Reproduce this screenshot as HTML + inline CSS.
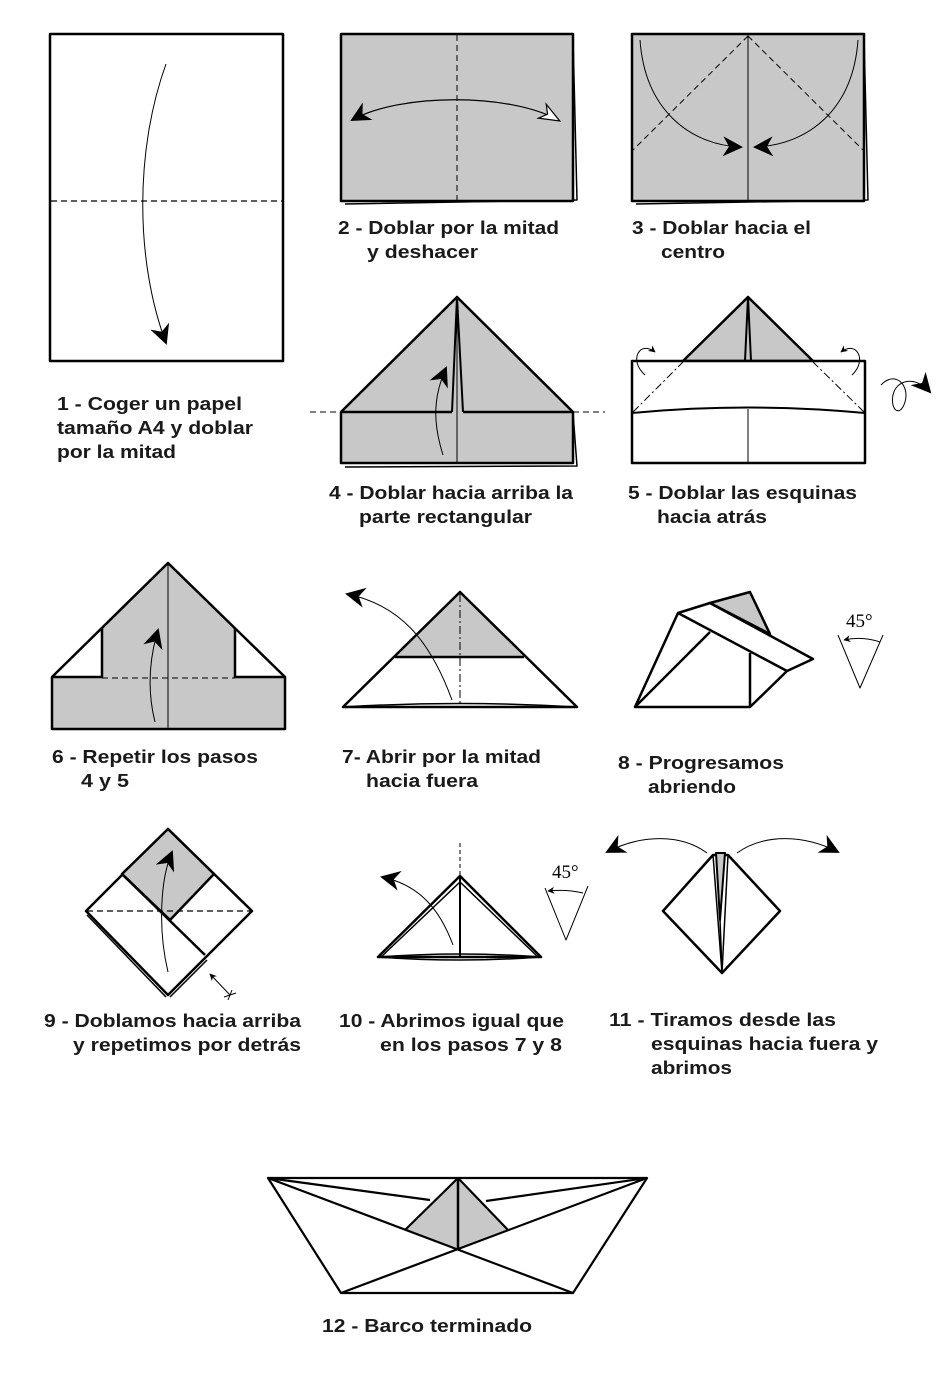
<!DOCTYPE html>
<html><head><meta charset="utf-8"><style>
html,body{margin:0;padding:0;background:#fff;}
svg{display:block;}
text{font-family:"Liberation Sans",Arial,sans-serif;font-weight:bold;font-size:18px;fill:#1a1a1a;}
.s{font-family:"Liberation Serif",serif;font-weight:normal;font-size:19px;fill:#000;}
</style></head><body>
<svg width="941" height="1387" viewBox="0 0 941 1387" xmlns="http://www.w3.org/2000/svg">
<defs>
<marker id="ab" viewBox="0 0 10 10" refX="9" refY="5" markerWidth="7" markerHeight="7" orient="auto-start-reverse" markerUnits="userSpaceOnUse"><path d="M0,0 L10,5 L0,10 L3,5z" fill="#000"/></marker>
<marker id="aB" viewBox="0 0 10 10" refX="9" refY="5" markerWidth="20" markerHeight="20" orient="auto-start-reverse" markerUnits="userSpaceOnUse"><path d="M0,0 L10,5 L0,10 L3,5z" fill="#000"/></marker>
<marker id="aW" viewBox="0 0 10 10" refX="9" refY="5" markerWidth="36" markerHeight="20" orient="auto" markerUnits="userSpaceOnUse"><path d="M0,1 L10,5 L0,9 L3,5z" fill="#fff" stroke="#000" stroke-width="0.6"/></marker>
</defs>
<g fill="none" stroke="#000" stroke-linejoin="round">
<!-- Step 1 -->
<rect x="50" y="34" width="233" height="327" fill="#fff" stroke-width="2.5"/>
<line x1="51" y1="201" x2="282" y2="201" stroke-width="1.2" stroke-dasharray="6,4"/>
<path d="M166,64 C135,150 135,260 166,343" stroke-width="1" marker-end="url(#aB)"/>
<!-- Step 2 -->
<polyline points="573,36 577,200 345,204" stroke-width="1.5"/>
<rect x="341" y="34" width="232" height="167" fill="#c8c8c8" stroke-width="2.5"/>
<line x1="457" y1="35" x2="457" y2="200" stroke-width="1" stroke-dasharray="6,4"/>
<path d="M352,120 C400,93 510,93 558,120" stroke-width="1.2" marker-start="url(#aB)" marker-end="url(#aW)"/>
<!-- Step 3 -->
<polyline points="864,36 868,200 636,204" stroke-width="1.5"/>
<rect x="632" y="34" width="232" height="167" fill="#c8c8c8" stroke-width="2.5"/>
<line x1="748" y1="35" x2="748" y2="200" stroke-width="1"/>
<line x1="748" y1="36" x2="633" y2="150" stroke-width="1" stroke-dasharray="6,4"/>
<line x1="748" y1="36" x2="863" y2="150" stroke-width="1" stroke-dasharray="6,4"/>
<path d="M640,40 C645,110 690,145 741,147" stroke-width="1" marker-end="url(#aB)"/>
<path d="M858,40 C853,110 808,145 755,147" stroke-width="1" marker-end="url(#aB)"/>
<!-- Step 4 -->
<polyline points="573,413 577,466 345,467" stroke-width="1.5"/>
<polygon points="457,297 341,412 341,463 573,463 573,412" fill="#c8c8c8" stroke-width="2.5"/>
<line x1="341" y1="412" x2="452" y2="412" stroke-width="2.5"/>
<line x1="463" y1="412" x2="573" y2="412" stroke-width="2.5"/>
<polyline points="452,412 457,297 463,412" stroke-width="2"/>
<line x1="310" y1="412" x2="341" y2="412" stroke-width="1" stroke-dasharray="6,4"/>
<line x1="573" y1="412" x2="605" y2="412" stroke-width="1" stroke-dasharray="6,4"/>
<line x1="457" y1="300" x2="457" y2="463" stroke-width="1"/>
<path d="M443,455 C432,420 434,395 446,368" stroke-width="1" marker-end="url(#aB)"/>
<!-- Step 5 -->
<polygon points="748,297 683,361 813,361" fill="#c8c8c8" stroke-width="2.5"/>
<polyline points="745,361 748,297 751,361" stroke-width="2"/>
<rect x="632" y="361" width="233" height="102" fill="#fff" stroke-width="2.5"/>
<path d="M632,413 Q748,402 865,413" stroke-width="2"/>
<line x1="748" y1="409" x2="748" y2="463" stroke-width="1"/>
<line x1="633" y1="412" x2="683" y2="362" stroke-width="1" stroke-dasharray="8,3,2,3"/>
<line x1="864" y1="412" x2="813" y2="362" stroke-width="1" stroke-dasharray="8,3,2,3"/>
<path d="M645,375 C628,360 640,340 655,352" stroke-width="1" marker-end="url(#ab)"/>
<path d="M852,375 C868,360 856,340 841,352" stroke-width="1" marker-end="url(#ab)"/>
<path d="M881,385 C895,370 910,385 905,402 C900,418 890,410 893,395 C896,380 915,375 930,392" stroke-width="1" marker-end="url(#aB)"/>
<!-- Step 6 -->
<polygon points="168,563 235,628 235,677 285,677 285,729 52,729 52,677 102,677 102,628" fill="#c8c8c8" stroke="none"/>
<polygon points="52,677 102,628 102,677" fill="#fff" stroke="none"/>
<polygon points="235,628 285,677 235,677" fill="#fff" stroke="none"/>
<polyline points="52,677 168,563 285,677" stroke-width="2.5"/>
<polyline points="102,628 102,677 52,677 52,729 285,729 285,677 235,677 235,628" stroke-width="2.5"/>
<line x1="102" y1="678" x2="235" y2="678" stroke-width="1" stroke-dasharray="6,4"/>
<line x1="168" y1="563" x2="168" y2="729" stroke-width="1"/>
<path d="M155,722 C147,690 149,660 158,630" stroke-width="1" marker-end="url(#aB)"/>
<!-- Step 7 -->
<polygon points="460,592 395,657 524,657" fill="#c8c8c8" stroke="none"/>
<polygon points="460,592 343,707 577,707" stroke-width="2.5"/>
<line x1="395" y1="657" x2="524" y2="657" stroke-width="2.5"/>
<path d="M343,707 Q460,700 577,707" stroke-width="1.5"/>
<line x1="460" y1="594" x2="460" y2="705" stroke-width="1" stroke-dasharray="8,3,2,3"/>
<path d="M452,700 C430,640 400,605 347,594" stroke-width="1" marker-end="url(#aB)"/>
<!-- Step 8 -->
<polygon points="635,707 678,613 710,603 813,659 787,671 750,707" fill="#fff" stroke-width="2.5"/>
<polygon points="710,603 750,592 770,634" fill="#c8c8c8" stroke-width="2.5"/>
<line x1="678" y1="613" x2="787" y2="671" stroke-width="2.5"/>
<line x1="635" y1="707" x2="710" y2="632" stroke-width="2.5"/>
<line x1="750" y1="653" x2="750" y2="707" stroke-width="2.5"/>
<polyline points="838,635 860,688 883,635" stroke-width="1"/>
<path d="M880,642 Q862,636 844,640" stroke-width="1" marker-end="url(#ab)"/>
<!-- Step 9 -->
<polygon points="168,829 252,911 168,995 86,911" fill="#fff" stroke-width="2.5"/>
<polygon points="168,829 214,874 170,920 122,874" fill="#c8c8c8" stroke-width="2.5"/>
<line x1="122" y1="874" x2="205" y2="955" stroke-width="2.5"/>
<line x1="87" y1="915" x2="166" y2="997" stroke-width="1.5"/>
<line x1="170" y1="997" x2="207" y2="960" stroke-width="1.5"/>
<line x1="87" y1="911" x2="251" y2="911" stroke-width="1.2" stroke-dasharray="6,4"/>
<path d="M168,972 C158,930 160,880 172,852" stroke-width="1" marker-end="url(#aB)"/>
<line x1="230" y1="995" x2="210" y2="974" stroke-width="1" marker-end="url(#ab)"/>
<line x1="224" y1="997" x2="236" y2="993" stroke-width="1"/>
<line x1="228" y1="1000" x2="232" y2="990" stroke-width="1"/>
<!-- Step 10 -->
<polygon points="460,876 378,957 541,957" fill="#fff" stroke-width="2.5"/>
<polyline points="381,957 460,882 538,957" stroke-width="1.5"/>
<line x1="460" y1="843" x2="460" y2="876" stroke-width="1" stroke-dasharray="4,3"/>
<line x1="460" y1="876" x2="460" y2="957" stroke-width="2"/>
<path d="M378,957 Q460,951 541,957 Q460,963 378,957" stroke-width="1.5"/>
<path d="M453,945 C440,910 420,885 382,877" stroke-width="1" marker-end="url(#aB)"/>
<polyline points="545,888 566,940 588,886" stroke-width="1"/>
<path d="M583,893 Q566,889 548,891" stroke-width="1" marker-end="url(#ab)"/>
<!-- Step 11 -->
<polygon points="713,855 663,911 722,973 780,911 728,855" fill="#fff" stroke-width="2.5"/>
<polygon points="716,853 720,920 725,853" fill="#c8c8c8" stroke-width="2"/>
<polyline points="713,855 722,973 728,855" stroke-width="1.5"/>
<line x1="720" y1="920" x2="722" y2="970" stroke-width="1.5"/>
<path d="M707,853 C680,833 640,835 607,852" stroke-width="1" marker-end="url(#aB)"/>
<path d="M737,853 C765,833 805,835 838,852" stroke-width="1" marker-end="url(#aB)"/>
<!-- Step 12 -->
<polygon points="458,1178 405,1230 458,1250 508,1230" fill="#c8c8c8" stroke="none"/>
<polygon points="268,1178 341,1293 573,1293 647,1178" fill="none" stroke-width="2.2"/>
<line x1="268" y1="1178" x2="430" y2="1200" stroke-width="2.2"/>
<line x1="647" y1="1178" x2="486" y2="1201" stroke-width="2.2"/>
<line x1="268" y1="1178" x2="573" y2="1293" stroke-width="2.2"/>
<line x1="647" y1="1178" x2="341" y2="1293" stroke-width="2.2"/>
<polyline points="405,1230 458,1178 508,1230" stroke-width="2.2"/>
<line x1="458" y1="1178" x2="458" y2="1250" stroke-width="2.5"/>
</g>
<!-- Labels -->
<text x="57" y="410" textLength="185" lengthAdjust="spacingAndGlyphs">1 - Coger un papel</text>
<text x="57" y="434" textLength="196" lengthAdjust="spacingAndGlyphs">tamaño A4 y doblar</text>
<text x="57" y="458" textLength="119" lengthAdjust="spacingAndGlyphs">por la mitad</text>
<text x="338" y="234" textLength="221" lengthAdjust="spacingAndGlyphs">2 - Doblar por la mitad</text>
<text x="367" y="258" textLength="111" lengthAdjust="spacingAndGlyphs">y deshacer</text>
<text x="632" y="234" textLength="179" lengthAdjust="spacingAndGlyphs">3 - Doblar hacia el</text>
<text x="661" y="258" textLength="64" lengthAdjust="spacingAndGlyphs">centro</text>
<text x="329" y="499" textLength="244" lengthAdjust="spacingAndGlyphs">4 - Doblar hacia arriba la</text>
<text x="359" y="523" textLength="173" lengthAdjust="spacingAndGlyphs">parte rectangular</text>
<text x="628" y="499" textLength="229" lengthAdjust="spacingAndGlyphs">5 - Doblar las esquinas</text>
<text x="657" y="523" textLength="110" lengthAdjust="spacingAndGlyphs">hacia atrás</text>
<text x="52" y="763" textLength="206" lengthAdjust="spacingAndGlyphs">6 - Repetir los pasos</text>
<text x="81" y="787" textLength="48" lengthAdjust="spacingAndGlyphs">4 y 5</text>
<text x="342" y="763" textLength="199" lengthAdjust="spacingAndGlyphs">7- Abrir por la mitad</text>
<text x="366" y="787" textLength="112" lengthAdjust="spacingAndGlyphs">hacia fuera</text>
<text x="618" y="769" textLength="166" lengthAdjust="spacingAndGlyphs">8 - Progresamos</text>
<text x="648" y="793" textLength="88" lengthAdjust="spacingAndGlyphs">abriendo</text>
<text x="44" y="1027" textLength="257" lengthAdjust="spacingAndGlyphs">9 - Doblamos hacia arriba</text>
<text x="73" y="1051" textLength="228" lengthAdjust="spacingAndGlyphs">y repetimos por detrás</text>
<text x="339" y="1027" textLength="225" lengthAdjust="spacingAndGlyphs">10 - Abrimos igual que</text>
<text x="380" y="1051" textLength="182" lengthAdjust="spacingAndGlyphs">en los pasos 7 y 8</text>
<text x="609" y="1026" textLength="227" lengthAdjust="spacingAndGlyphs">11 - Tiramos desde las</text>
<text x="651" y="1050" textLength="227" lengthAdjust="spacingAndGlyphs">esquinas hacia fuera y</text>
<text x="651" y="1074" textLength="81" lengthAdjust="spacingAndGlyphs">abrimos</text>
<text x="322" y="1332" textLength="210" lengthAdjust="spacingAndGlyphs">12 - Barco terminado</text>
<text class="s" x="846" y="627">45°</text>
<text class="s" x="552" y="878">45°</text>
</svg>
</body></html>
